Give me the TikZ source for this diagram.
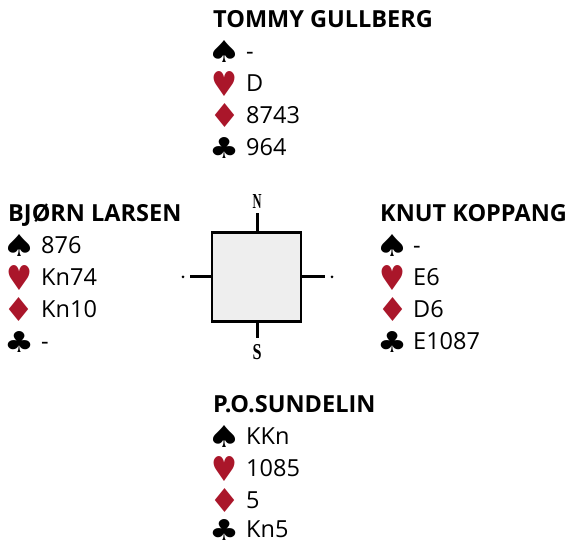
\documentclass[tikz,border=0pt]{standalone}
\usepackage{fontspec}
\setmainfont{Open Sans}
\newfontfamily\suitfont{DejaVu Sans}
\newfontfamily\compassfont{Liberation Serif}
\usepackage{graphicx}
\usepackage{tikz}
\usetikzlibrary{positioning}
\definecolor{suitRed}{RGB}{170,22,42}
\definecolor{boxFill}{RGB}{238,238,238}
\newcommand{\spadesym}{\resizebox{34pt}{22pt}{\suitfont ♠}}
\newcommand{\heartsym}{\resizebox{26pt}{25pt}{\suitfont ♥}}
\newcommand{\diamsym}{\resizebox{31pt}{24pt}{\suitfont ♦}}
\newcommand{\clubsym}{\resizebox{30pt}{21pt}{\suitfont ♣}}
\tikzstyle{player}=[anchor=base west, inner sep=0pt, font=\fontsize{23.5}{23.5}\selectfont\bfseries]
\tikzstyle{holding}=[anchor=base west, inner sep=0pt, font=\fontsize{23.5}{23.5}\selectfont]
\tikzstyle{suitsym}=[anchor=center, inner sep=0pt]
\tikzstyle{compassbox}=[draw, line width=2.2pt, fill=boxFill, minimum size=89pt, inner sep=0pt]
\tikzstyle{compasstick}=[line width=3pt]
\tikzstyle{compasslabel}=[inner sep=0pt]

\begin{document}
\begin{tikzpicture}[x=1pt, y=-1pt]
    \useasboundingbox (0,0) rectangle (566,548);

    % --- nord ---
    \node[player] (nName) at (213,28) {TOMMY GULLBERG};
    \foreach \sym/\col/\cards/\k in {\spadesym/black/-/1,\heartsym/suitRed/D/2,\diamsym/suitRed/8743/3,\clubsym/black/964/4} {
      \node[suitsym, text=\col] (nSym\k) at (224.5, 20+\k*32) {\sym};
      \node[holding] (nCards\k) at (246, 28+\k*32) {\cards};
    }

    % --- vest ---
    \node[player] (wName) at (8,222) {BJØRN LARSEN};
    \foreach \sym/\col/\cards/\k in {\spadesym/black/876/1,\heartsym/suitRed/Kn74/2,\diamsym/suitRed/Kn10/3,\clubsym/black/-/4} {
      \node[suitsym, text=\col] (wSym\k) at (19.5, 214+\k*32) {\sym};
      \node[holding] (wCards\k) at (41, 222+\k*32) {\cards};
    }

    % --- øst ---
    \node[player] (eName) at (380,222) {KNUT KOPPANG};
    \foreach \sym/\col/\cards/\k in {\spadesym/black/-/1,\heartsym/suitRed/E6/2,\diamsym/suitRed/D6/3,\clubsym/black/E1087/4} {
      \node[suitsym, text=\col] (eSym\k) at (392.5, 214+\k*32) {\sym};
      \node[holding] (eCards\k) at (413, 222+\k*32) {\cards};
    }

    % --- syd ---
    \node[player] (sName) at (213,413) {P.O.SUNDELIN};
    \foreach \sym/\col/\cards/\k/\y in {\spadesym/black/KKn/1/445,\heartsym/suitRed/1085/2/477,\diamsym/suitRed/5/3/509,\clubsym/black/Kn5/4/538} {
      \node[suitsym, text=\col] (sSym\k) at (224.5, \y-8) {\sym};
      \node[holding] (sCards\k) at (246, \y) {\cards};
    }

    % kompass
    \node[compassbox] (box) at (256.5,277) {};
    \coordinate (tN) at (257,213);
    \coordinate (tS) at (257,338);
    \coordinate (tW) at (190,277);
    \coordinate (tE) at (325,277);
    \draw[compasstick] (box.north -| tN) -- (tN);
    \draw[compasstick] (box.south -| tS) -- (tS);
    \draw[compasstick] (box.west) -- (tW);
    \draw[compasstick] (box.east) -- (tE);
    \node[compasslabel] (lN) at (257,201.5) {\resizebox{9pt}{14pt}{\compassfont\bfseries N}};
    \node[compasslabel] (lS) at (257,352) {\resizebox{9pt}{15pt}{\compassfont\bfseries S}};
    \fill (183,277) circle (1.5) coordinate (dW);
    \fill (332,277) circle (1.5) coordinate (dE);
  \end{tikzpicture}
\end{document}
